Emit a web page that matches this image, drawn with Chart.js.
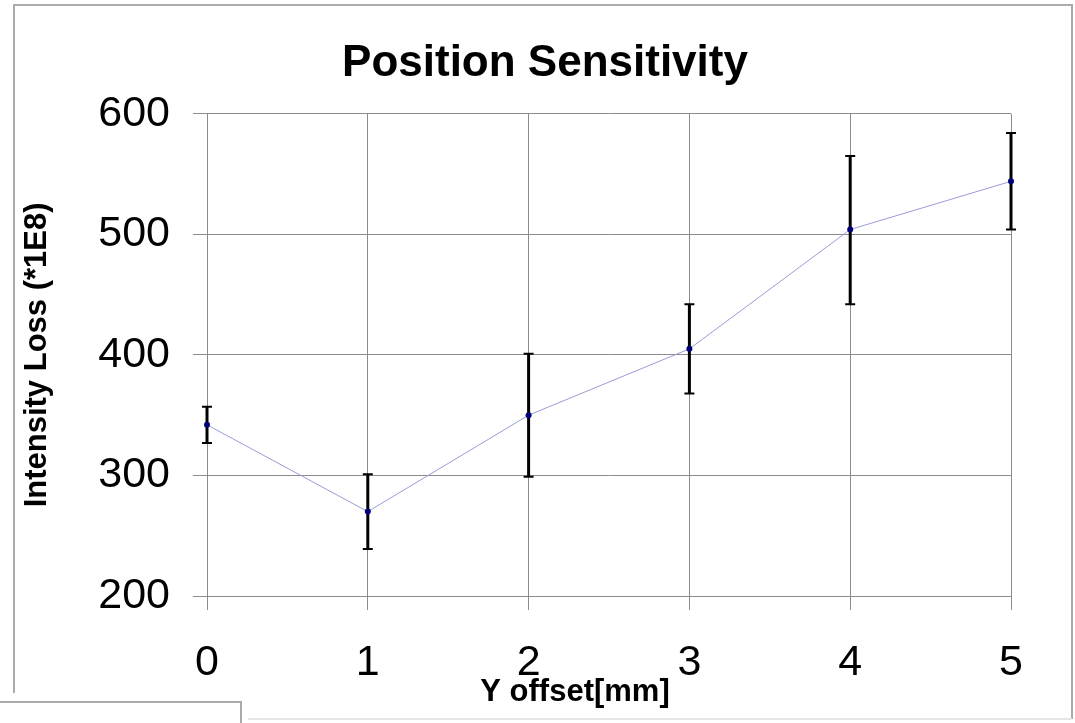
<!DOCTYPE html>
<html>
<head>
<meta charset="utf-8">
<script src="https://cdn.jsdelivr.net/npm/chart.js@4.4.0/dist/chart.umd.min.js"></script>
<style>
  html, body { margin: 0; padding: 0; background: #fff; }
</style>
</head>
<body>
<canvas id="chart" width="1075" height="723"></canvas>
<script>
// Y offset [mm] vs intensity loss (*1E8), with error bars
const offsets = [0, 1, 2, 3, 4, 5]
const loss = [342, 270, 350, 405, 504, 544]
const errLow = [327, 239, 299, 368, 442, 504]
const errHigh = [357, 301, 401, 442, 565, 584]

const FONT = "'Liberation Sans', Arial, sans-serif"
const GRID = '#8c8c8c'

// black error bars, drawn under the points
const errorBars = {
  id: 'errorBars',
  beforeDatasetsDraw(chart) {
    const { ctx, scales: { x, y } } = chart
    ctx.save()
    ctx.strokeStyle = '#000'
    offsets.forEach((o, i) => {
      const px = x.getPixelForValue(o)
      const lo = y.getPixelForValue(errLow[i])
      const hi = y.getPixelForValue(errHigh[i])
      ctx.lineWidth = 3
      ctx.beginPath()
      ctx.moveTo(px, lo)
      ctx.lineTo(px, hi)
      ctx.stroke()
      ctx.lineWidth = 2
      ctx.beginPath()
      ctx.moveTo(px - 5, lo); ctx.lineTo(px + 5, lo)
      ctx.moveTo(px - 5, hi); ctx.lineTo(px + 5, hi)
      ctx.stroke()
    })
    ctx.restore()
  },
}

// page frame and the little box at bottom-left
const frame = {
  id: 'frame',
  beforeDraw(chart) {
    const { ctx, width, height } = chart
    ctx.save()
    ctx.fillStyle = '#fff'
    ctx.fillRect(0, 0, width, height)
    ctx.strokeStyle = '#ababab'
    ctx.lineWidth = 2
    ctx.beginPath()
    ctx.moveTo(14, 693); ctx.lineTo(14, 5); ctx.lineTo(1072, 5); ctx.lineTo(1072, 719)
    ctx.moveTo(0, 702); ctx.lineTo(241, 702); ctx.lineTo(241, 723)
    ctx.stroke()
    ctx.strokeStyle = '#e6e6e6'
    ctx.beginPath()
    ctx.moveTo(248, 719); ctx.lineTo(1072, 719)
    ctx.stroke()
    ctx.restore()
  },
}

// x axis title sits left of centre in the original
const xTitle = {
  id: 'xTitle',
  afterDraw(chart) {
    const { ctx } = chart
    ctx.save()
    ctx.font = `bold 31px ${FONT}`
    ctx.fillStyle = '#000'
    ctx.textAlign = 'center'
    ctx.textBaseline = 'middle'
    ctx.fillText('Y offset[mm]', 575, 692)
    ctx.restore()
  },
}

new Chart(document.getElementById('chart'), {
  type: 'line',
  data: {
    datasets: [{
      data: offsets.map((o, i) => ({ x: o, y: loss[i] })),
      borderColor: '#9c9cd8',
      borderWidth: 1,
      pointRadius: 3,
      pointBackgroundColor: '#00007a',
      pointBorderWidth: 0,
      tension: 0,
      clip: false,
    }],
  },
  options: {
    responsive: false,
    animation: false,
    devicePixelRatio: 1,
    layout: { padding: { left: 79, right: 64, top: 0, bottom: 0 } },
    plugins: {
      legend: { display: false },
      tooltip: { enabled: false },
      title: {
        display: true,
        text: 'Position Sensitivity',
        color: '#000',
        font: { family: FONT, size: 44, weight: 'bold' },
        padding: { top: 37, bottom: 24 },
      },
    },
    scales: {
      x: {
        type: 'linear',
        min: 0,
        max: 5,
        afterFit(s) { s.height = 127 },
        ticks: { stepSize: 1, color: '#000', padding: 27, font: { family: FONT, size: 43 } },
        grid: { color: GRID, lineWidth: 1, tickLength: 14 },
        border: { color: GRID },
      },
      y: {
        min: 200,
        max: 600,
        afterFit(s) { s.width = 128 },
        ticks: { stepSize: 100, color: '#000', padding: 23, font: { family: FONT, size: 43 } },
        grid: { color: GRID, lineWidth: 1, tickLength: 14 },
        border: { color: GRID },
        title: {
          display: true,
          text: 'Intensity Loss (*1E8)',
          color: '#000',
          font: { family: FONT, size: 31, weight: 'bold' },
          padding: { top: -60, bottom: 0 },
        },
      },
    },
  },
  plugins: [frame, errorBars, xTitle],
})
</script>
</body>
</html>
